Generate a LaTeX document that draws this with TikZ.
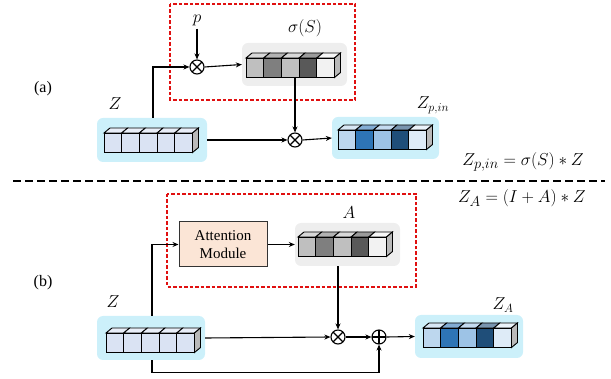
\documentclass[tikz,border=0pt]{standalone}
\usepackage{fontspec}
\setmainfont{Liberation Serif}
\usetikzlibrary{arrows.meta}
\definecolor{cyanbg}{HTML}{CCF0FA}
\definecolor{graybg}{HTML}{EEEEEE}
\definecolor{zc}{HTML}{DAE3F3}
\definecolor{bA}{HTML}{BDD7EE}
\definecolor{bB}{HTML}{2E75B6}
\definecolor{bC}{HTML}{9DC3E6}
\definecolor{bD}{HTML}{1F4E79}
\definecolor{bE}{HTML}{DEEBF7}
\definecolor{gA}{HTML}{BFBFBF}
\definecolor{gB}{HTML}{7F7F7F}
\definecolor{gC}{HTML}{BFBFBF}
\definecolor{gD}{HTML}{595959}
\definecolor{gE}{HTML}{F2F2F2}
\definecolor{attfill}{HTML}{FBE5D6}
\definecolor{redbox}{HTML}{E01010}
\newcommand{\cuberow}[3]{%
  \foreach \cc [count=\ii from 0] in {#3}{
    \pgfmathsetmacro{\xa}{#1+\ii*17.7}
    \fill[\cc!60!white,draw=black,line width=0.9pt] (\xa,#2) -- ++(6,-5) -- ++(17.7,0) -- ++(-6,5) -- cycle;
    \fill[\cc,draw=black,line width=0.9pt] (\xa,#2) rectangle ++(17.7,19.5);
  }
  \pgfmathsetmacro{\xb}{#1+5*17.7}
  \fill[gray!55,draw=black,line width=0.9pt] (\xb,#2) -- ++(6,-5) -- ++(0,19.5) -- ++(-6,5) -- cycle;
}
\begin{document}
\begin{tikzpicture}[x=1pt,y=-1pt,
  lbl/.style={font=\fontsize{17}{19}\selectfont, inner sep=0pt},
  eq/.style={font=\fontsize{19}{21}\selectfont, inner sep=0pt},
  panel/.style={font=\fontsize{16}{18}\selectfont, inner sep=0pt},
  cbox/.style={fill=cyanbg, rounded corners=6pt, inner sep=0pt},
  gbox/.style={fill=graybg, rounded corners=6pt, inner sep=0pt},
  op/.style={circle, draw, line width=1.1pt, minimum size=14pt, inner sep=0pt},
  mult/.style={op, path picture={\draw[line width=1.1pt] (path picture bounding box.north west) -- (path picture bounding box.south east) (path picture bounding box.north east) -- (path picture bounding box.south west);}},
  plus/.style={op, path picture={\draw[line width=1.1pt] (path picture bounding box.north) -- (path picture bounding box.south) (path picture bounding box.west) -- (path picture bounding box.east);}},
  conn/.style={line width=1.1pt, -{Stealth[length=6pt,width=5pt]}},
  redd/.style={draw=redbox, dashed, dash pattern=on 3.5pt off 2pt, line width=1.1pt},
  attbox/.style={draw=black!80, fill=attfill, line width=1pt, align=center, minimum width=88pt, minimum height=45pt, inner sep=0pt, font=\fontsize{15}{18}\selectfont}
]
\useasboundingbox (0,0) rectangle (611,379);

% ---------- panel (a) ----------
\draw[redd] (170,4) rectangle (355,100);
\node[panel] (la) at (43,89) {(a)};

\node[cbox, minimum width=110pt, minimum height=44pt] (za) at (152,140) {};
\cuberow{104}{133}{zc,zc,zc,zc,zc}
\node[lbl] (tza) at (115,104) {$Z$};

\node[gbox, minimum width=105pt, minimum height=43pt] (sig) at (294.5,64.5) {};
\cuberow{246}{58}{gA,gB,gC,gD,gE}
\coordinate (sigb) at (295,78);
\node[lbl] (tsig) at (305,28) {$\sigma(S)$};

\node[cbox, minimum width=107pt, minimum height=42pt] (zp) at (385.5,138) {};
\cuberow{338}{130}{bA,bB,bC,bD,bE}
\node[lbl] (tzp) at (433,105) {$Z_{p,in}$};

\node[lbl] (p) at (197,20) {$p$};
\node[mult] (m1) at (197,67) {};
\node[mult] (m2) at (295,140) {};

\draw[conn] (p.south) ++(0,3) -- (m1.north);
\draw[conn] ([xshift=1pt]za.north) |- (m1.west);
\draw[conn] (m1.east) -- (sig.west);
\draw[conn] (sigb) -- (m2.north);
\draw[conn] (za.east) -- (m2.west);
\draw[conn] (m2.east) -- (zp.west);

\node[eq, anchor=east] (eqa) at (584,162) {$Z_{p,in}=\sigma(S)*Z$};
\draw[line width=2.4pt, dash pattern=on 8pt off 4pt] (13,181) -- (605,181);
\node[eq, anchor=east] (eqb) at (586,198) {$Z_{A}=(I+A)*Z$};

% ---------- panel (b) ----------
\draw[redd] (167,194) rectangle (416,287);
\node[panel] (lb) at (43,283) {(b)};

\node[attbox] (att) at (223,244.5) {Attention\\Module};

\node[gbox, minimum width=105pt, minimum height=43pt] (A) at (347.5,244.5) {};
\cuberow{298}{237}{gA,gB,gC,gD,gE}
\node[lbl] (tA) at (349,213) {$A$};

\node[cbox, minimum width=108pt, minimum height=44pt] (zb) at (151,338) {};
\cuberow{106}{333}{zc,zc,zc,zc,zc}
\node[lbl] (tzb) at (113,302) {$Z$};

\node[cbox, minimum width=108pt, minimum height=43pt] (zab) at (469,336.5) {};
\cuberow{423}{328}{bA,bB,bC,bD,bE}
\node[lbl] (tzab) at (503,305) {$Z_A$};

\node[mult] (m3) at (338,337) {};
\node[plus] (pl) at (379,337) {};

\draw[conn] ([xshift=1pt]zb.north) |- (att.west);
\draw[conn] (att.east) -- (A.west);
\draw[conn] (A.south -| m3) -- (m3.north);
\draw[conn] (zb.east) -- (m3.west);
\draw[conn] (m3.east) -- (pl.west);
\draw[conn] ([xshift=1pt]zb.south) -- ++(0,12) -| (pl.south);
\draw[conn] (pl.east) -- (zab.west);
\end{tikzpicture}
\end{document}
